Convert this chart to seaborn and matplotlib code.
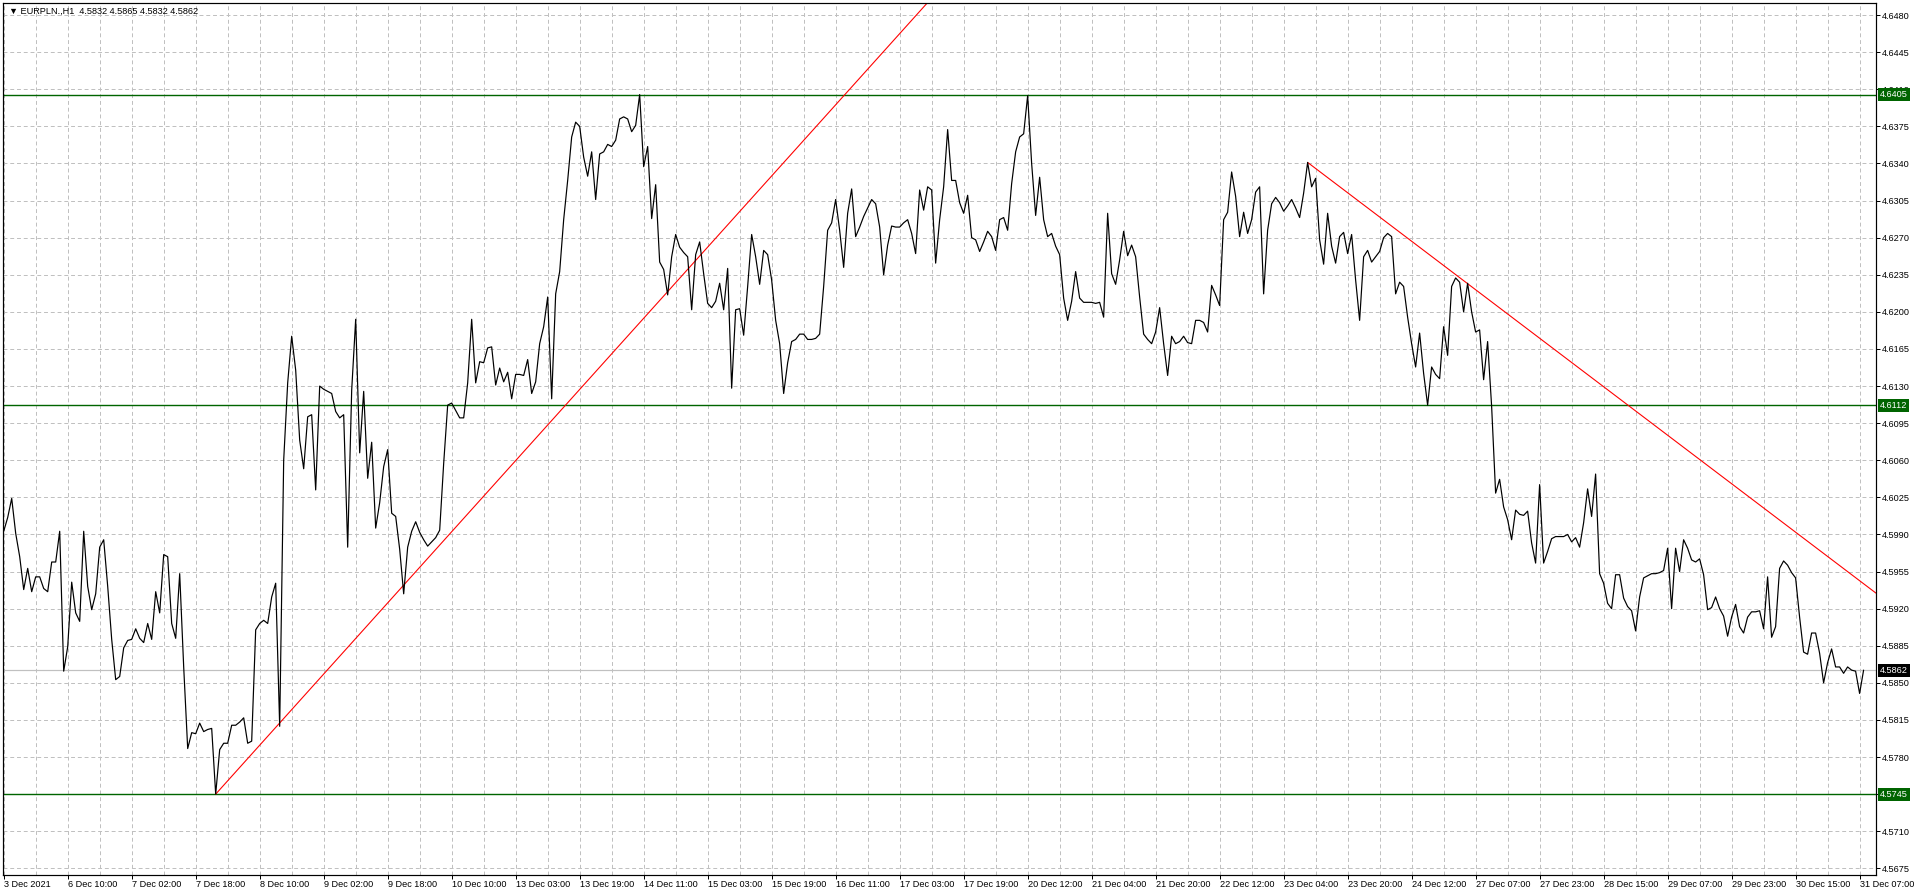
import numpy as np
import pandas as pd
import matplotlib
matplotlib.use("Agg")
import matplotlib.pyplot as plt
import matplotlib.transforms as mtransforms
import seaborn as sns

# ---------------- data ----------------
closes = [
    4.5993, 4.6006, 4.6024, 4.5991, 4.5969, 4.5938, 4.5958, 4.5936, 4.5950, 4.5950,
    4.5939, 4.5936, 4.5964, 4.5964, 4.5993, 4.5861, 4.5884, 4.5945, 4.5916, 4.5908,
    4.5993, 4.5941, 4.5919, 4.5934, 4.5978, 4.5985, 4.5941, 4.5891, 4.5853, 4.5856,
    4.5883, 4.5890, 4.5891, 4.5901, 4.5892, 4.5888, 4.5906, 4.5891, 4.5936, 4.5916,
    4.5971, 4.5969, 4.5906, 4.5892, 4.5953, 4.5865, 4.5788, 4.5803, 4.5802, 4.5812,
    4.5804, 4.5806, 4.5807, 4.5745, 4.5787, 4.5793, 4.5793, 4.5810, 4.5810, 4.5813,
    4.5817, 4.5793, 4.5795, 4.5900, 4.5906, 4.5909, 4.5906, 4.5931, 4.5944, 4.5809,
    4.6060, 4.6133, 4.6177, 4.6145, 4.6079, 4.6052, 4.6101, 4.6103, 4.6032, 4.6130,
    4.6127, 4.6125, 4.6123, 4.6106, 4.6100, 4.6103, 4.5978, 4.6126, 4.6193, 4.6067,
    4.6125, 4.6043, 4.6077, 4.5996, 4.6020, 4.6054, 4.6070, 4.6010, 4.6007, 4.5976,
    4.5934, 4.5978, 4.5993, 4.6002, 4.5992, 4.5985, 4.5979, 4.5983, 4.5987, 4.5994,
    4.6057, 4.6112, 4.6114, 4.6107, 4.6100, 4.6100, 4.6133, 4.6193, 4.6133, 4.6153,
    4.6152, 4.6166, 4.6167, 4.6131, 4.6147, 4.6134, 4.6143, 4.6118, 4.6141, 4.6141,
    4.6140, 4.6155, 4.6123, 4.6134, 4.6170, 4.6186, 4.6214, 4.6118, 4.6217, 4.6238,
    4.6287, 4.6324, 4.6365, 4.6379, 4.6375, 4.6346, 4.6328, 4.6351, 4.6306, 4.6349,
    4.6351, 4.6358, 4.6356, 4.6362, 4.6382, 4.6384, 4.6382, 4.6370, 4.6376, 4.6405,
    4.6337, 4.6356, 4.6288, 4.6320, 4.6247, 4.6240, 4.6216, 4.6252, 4.6273, 4.6261,
    4.6256, 4.6252, 4.6202, 4.6254, 4.6266, 4.6236, 4.6208, 4.6204, 4.6210, 4.6227,
    4.6202, 4.6241, 4.6128, 4.6202, 4.6203, 4.6178, 4.6224, 4.6273, 4.6252, 4.6226,
    4.6258, 4.6254, 4.6230, 4.6192, 4.6170, 4.6123, 4.6152, 4.6172, 4.6174, 4.6179,
    4.6179, 4.6174, 4.6174, 4.6175, 4.6179, 4.6224, 4.6277, 4.6284, 4.6306, 4.6277,
    4.6242, 4.6293, 4.6316, 4.6271, 4.6280, 4.6290, 4.6298, 4.6306, 4.6302, 4.6280,
    4.6235, 4.6263, 4.6281, 4.6280, 4.6280, 4.6284, 4.6287, 4.6274, 4.6255, 4.6315,
    4.6296, 4.6318, 4.6315, 4.6246, 4.6287, 4.6318, 4.6372, 4.6324, 4.6324, 4.6303,
    4.6293, 4.6310, 4.6270, 4.6268, 4.6257, 4.6266, 4.6276, 4.6271, 4.6258, 4.6287,
    4.6289, 4.6277, 4.6321, 4.6351, 4.6365, 4.6368, 4.6404, 4.6340, 4.6291, 4.6327,
    4.6287, 4.6271, 4.6274, 4.6262, 4.6254, 4.6213, 4.6192, 4.6210, 4.6238, 4.6213,
    4.6209, 4.6209, 4.6209, 4.6208, 4.6209, 4.6195, 4.6293, 4.6236, 4.6226, 4.6249,
    4.6276, 4.6253, 4.6263, 4.6252, 4.6214, 4.6179, 4.6174, 4.6170, 4.6181, 4.6204,
    4.6170, 4.6140, 4.6177, 4.6170, 4.6172, 4.6177, 4.6171, 4.6170, 4.6192, 4.6192,
    4.6190, 4.6181, 4.6225, 4.6216, 4.6206, 4.6287, 4.6294, 4.6332, 4.6309, 4.6271,
    4.6294, 4.6274, 4.6287, 4.6313, 4.6318, 4.6217, 4.6277, 4.6302, 4.6308, 4.6303,
    4.6295, 4.6300, 4.6306, 4.6298, 4.6289, 4.6312, 4.6341, 4.6318, 4.6326, 4.6268,
    4.6245, 4.6293, 4.6262, 4.6246, 4.6271, 4.6275, 4.6255, 4.6273, 4.6230, 4.6192,
    4.6252, 4.6258, 4.6247, 4.6252, 4.6257, 4.6270, 4.6274, 4.6271, 4.6217, 4.6228,
    4.6224, 4.6195, 4.6170, 4.6148, 4.6180, 4.6142, 4.6112, 4.6148, 4.6141, 4.6137,
    4.6186, 4.6159, 4.6224, 4.6232, 4.6228, 4.6200, 4.6227, 4.6200, 4.6181, 4.6183,
    4.6136, 4.6172, 4.6111, 4.6029, 4.6042, 4.6016, 4.6004, 4.5985, 4.6013, 4.6009,
    4.6008, 4.6012, 4.5982, 4.5963, 4.6037, 4.5963, 4.5974, 4.5986, 4.5988, 4.5988,
    4.5988, 4.5990, 4.5983, 4.5987, 4.5978, 4.6001, 4.6033, 4.6007, 4.6047, 4.5953,
    4.5944, 4.5925, 4.5920, 4.5952, 4.5952, 4.5930, 4.5922, 4.5918, 4.5899, 4.5931,
    4.5949, 4.5951, 4.5953, 4.5953, 4.5954, 4.5956, 4.5977, 4.5920, 4.5977, 4.5955,
    4.5985, 4.5977, 4.5966, 4.5964, 4.5967, 4.5952, 4.5919, 4.5921, 4.5931, 4.5920,
    4.5913, 4.5894, 4.5912, 4.5924, 4.5903, 4.5897, 4.5912, 4.5917, 4.5917, 4.5918,
    4.5901, 4.5950, 4.5893, 4.5903, 4.5958, 4.5965, 4.5961, 4.5954, 4.5949, 4.5912,
    4.5879, 4.5877, 4.5897, 4.5897, 4.5878, 4.5850, 4.5869, 4.5882, 4.5865, 4.5865,
    4.5859, 4.5865, 4.5862, 4.5861, 4.5840, 4.5862,
]
bars = list(range(len(closes)))

x_tick_labels = ['3 Dec 2021', '6 Dec 10:00', '7 Dec 02:00', '7 Dec 18:00', '8 Dec 10:00',
                 '9 Dec 02:00', '9 Dec 18:00', '10 Dec 10:00', '13 Dec 03:00', '13 Dec 19:00',
                 '14 Dec 11:00', '15 Dec 03:00', '15 Dec 19:00', '16 Dec 11:00', '17 Dec 03:00',
                 '17 Dec 19:00', '20 Dec 12:00', '21 Dec 04:00', '21 Dec 20:00', '22 Dec 12:00',
                 '23 Dec 04:00', '23 Dec 20:00', '24 Dec 12:00', '27 Dec 07:00', '27 Dec 23:00',
                 '28 Dec 15:00', '29 Dec 07:00', '29 Dec 23:00', '30 Dec 15:00', '31 Dec 07:00']
x_tick_bars = [16 * i for i in range(len(x_tick_labels))]

y_tick_values = [round(4.5675 + 0.0035 * i, 4) for i in range(24)]

support_levels = [4.6405, 4.6112, 4.5745]
current_price = 4.5862

trend_up_bars = [53, 150]
trend_up_prices = [4.5745, 4.6152]
trend_down_bars = [326, 440]
trend_down_prices = [4.6341, 4.6015]

title_text = "\u25BC EURPLN.,H1  4.5832 4.5865 4.5832 4.5862"

# ---------------- style ----------------
sns.set_style("white")
plt.rcParams['font.family'] = ['Liberation Sans', 'DejaVu Sans']
plt.rcParams['lines.scale_dashes'] = False
FS = 6.6
PX = 72.0 / 100.0  # one pixel in points

W, H = 1916, 896
fig = plt.figure(figsize=(W / 100, H / 100), dpi=100)
fig.patch.set_facecolor('white')
ax = fig.add_axes([2.7 / W, 21 / H, (1876 - 2.7) / W, (875 - 2.7) / H])
ax.set_facecolor('white')

x_min, x_max = -0.25, 468.1
y_min, y_max = 4.56687, 4.64917
ax.set_xlim(x_min, x_max)
ax.set_ylim(y_min, y_max)

# grid
grid_kw = dict(color='#c0c0c0', linewidth=PX, dashes=(3 * PX * 1.3, 2.2 * PX * 1.3), zorder=0.5)
for b in range(0, 469, 8):
    ax.axvline(b, **grid_kw)
for v in y_tick_values:
    ax.axhline(v, **grid_kw)

# horizontal levels
for lvl in support_levels:
    ax.axhline(lvl, color='#006400', linewidth=1.4 * PX, zorder=2)
ax.axhline(current_price, color='#c0c0c0', linewidth=1.2 * PX, zorder=1.5)

# trendlines (rays to the right)
for tb, tp in ((trend_up_bars, trend_up_prices), (trend_down_bars, trend_down_prices)):
    slope = (tp[1] - tp[0]) / (tb[1] - tb[0])
    xs = np.array([tb[0], x_max])
    ys = tp[0] + slope * (xs - tb[0])
    ax.plot(xs, ys, color='#ff0000', linewidth=1.1 * PX, zorder=2.2)

# price line
df = pd.DataFrame({'bar': bars, 'close': closes})
sns.lineplot(data=df, x='bar', y='close', ax=ax, color='black', linewidth=1.2 * PX,
             zorder=3, estimator=None, sort=False)
ax.set_xlabel('')
ax.set_ylabel('')

# spines
for s in ax.spines.values():
    s.set_visible(True)
    s.set_color('black')
    s.set_linewidth(1.2 * PX)

# y ticks on right
ax.yaxis.tick_right()
ax.set_yticks(y_tick_values)
ax.set_yticklabels([f"{v:.4f}" for v in y_tick_values])
ax.tick_params(axis='y', which='major', direction='out', length=4 * PX, width=PX,
               pad=1.5 * PX, labelsize=FS, colors='black', right=True, left=False)

# x ticks
ax.set_xticks(x_tick_bars)
ax.set_xticklabels(x_tick_labels)
ax.tick_params(axis='x', which='major', direction='out', length=4 * PX, width=PX,
               pad=0.5, labelsize=FS, colors='black', bottom=True)
for lbl in ax.get_xticklabels():
    lbl.set_horizontalalignment('left')
    lbl.set_x(lbl.get_position()[0])

# price labels on right axis
trans = mtransforms.blended_transform_factory(ax.transAxes, ax.transData)
x_off = 1.0 + 4.0 / (1876 - 2.7)
for lvl in support_levels:
    ax.text(x_off, lvl, f"{lvl:.4f}", transform=trans, ha='left', va='center',
            fontsize=FS, color='white', clip_on=False, zorder=10,
            bbox=dict(boxstyle='square,pad=0.22', fc='#006400', ec='#006400', lw=0))
ax.text(x_off, current_price, f"{current_price:.4f}", transform=trans, ha='left', va='center',
        fontsize=FS, color='white', clip_on=False, zorder=10,
        bbox=dict(boxstyle='square,pad=0.22', fc='black', ec='black', lw=0))

# title
ax.text(6 / (1876 - 2.7), 1 - 9 / (875 - 2.7), title_text, transform=ax.transAxes,
        ha='left', va='center', fontsize=FS, color='black', zorder=10)

fig.savefig('out.png', dpi=100, facecolor='white')
